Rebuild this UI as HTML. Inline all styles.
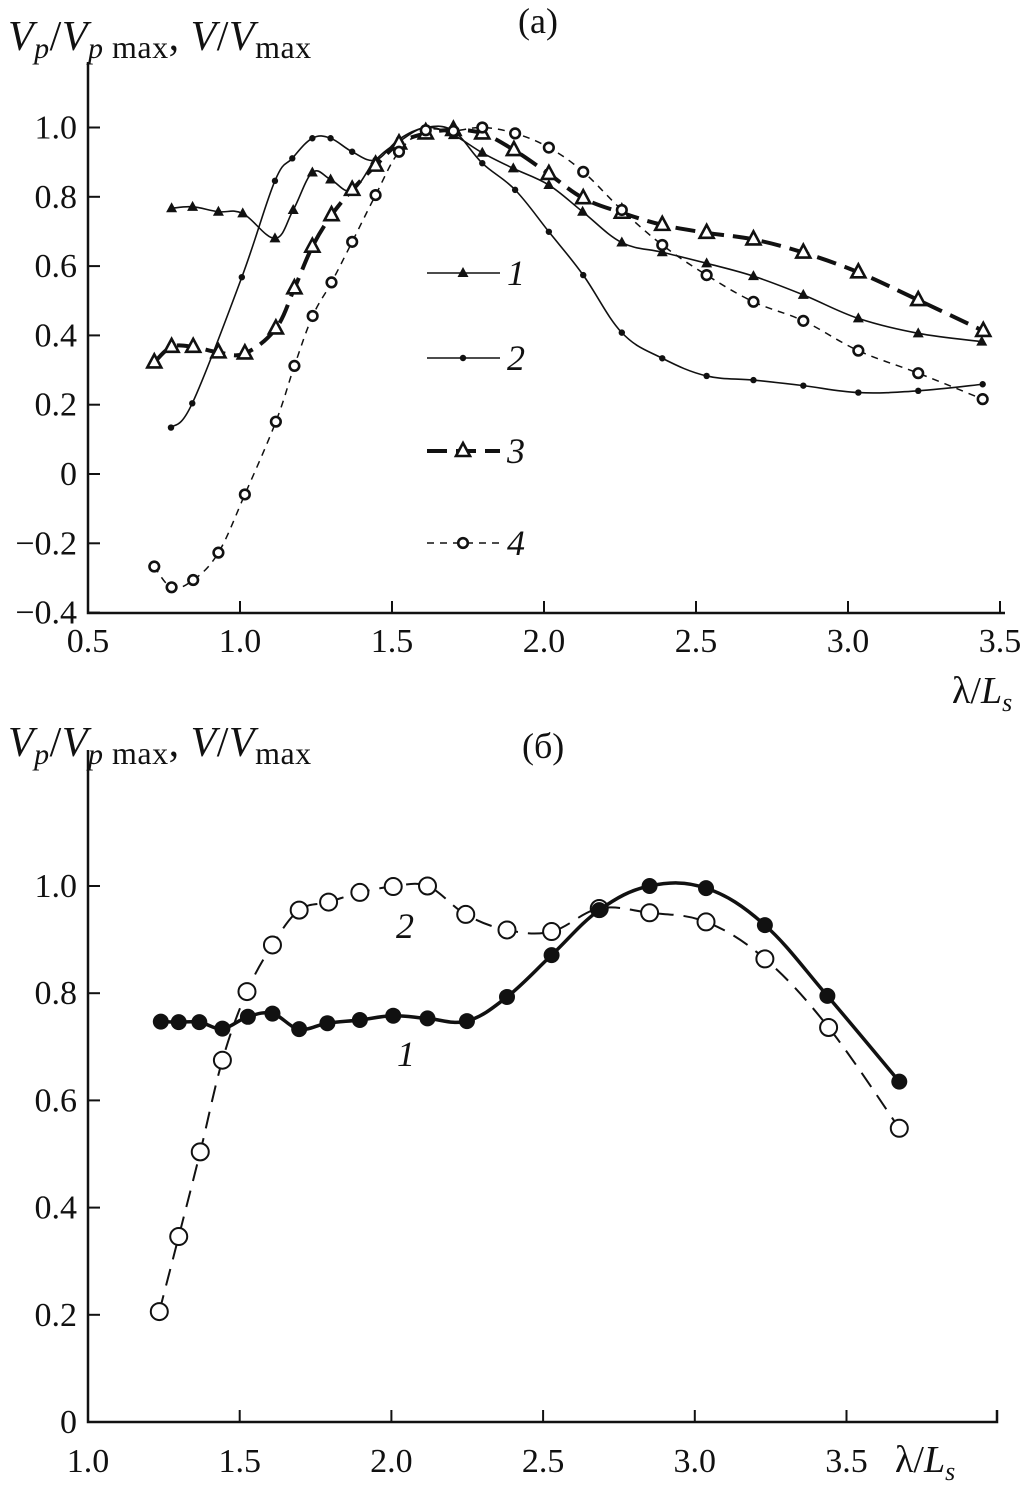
<!DOCTYPE html>
<html><head><meta charset="utf-8"><style>
body{margin:0;background:#fff}
svg{display:block}
text{font-family:"Liberation Serif",serif;fill:#111}
</style></head><body>
<svg id="chart" width="1030" height="1494" viewBox="0 0 1030 1494" xmlns="http://www.w3.org/2000/svg">
<g id="pa"></g>
<g id="pb"></g>
</svg>
<script>
// Panel (a) data
const aX1=[0.775,0.844,0.929,1.009,1.115,1.175,1.238,1.298,1.369,1.446,1.523,1.611,1.702,1.797,1.899,2.016,2.127,2.256,2.389,2.535,2.689,2.853,3.034,3.231,3.440];
const aY1=[0.767,0.771,0.757,0.752,0.680,0.762,0.870,0.850,0.818,0.906,0.959,1.0,0.978,0.927,0.882,0.834,0.757,0.668,0.640,0.608,0.571,0.517,0.449,0.406,0.382];
const aX2=[0.773,0.843,1.006,1.115,1.172,1.238,1.298,1.369,1.446,1.523,1.611,1.702,1.797,1.905,2.016,2.129,2.256,2.389,2.535,2.689,2.853,3.034,3.231,3.443];
const aY2=[0.134,0.204,0.568,0.846,0.911,0.969,0.969,0.930,0.906,0.966,1.0,0.990,0.897,0.820,0.699,0.574,0.408,0.334,0.283,0.271,0.255,0.235,0.240,0.259];
const aX3=[0.718,0.775,0.846,0.929,1.016,1.118,1.179,1.238,1.301,1.369,1.446,1.523,1.611,1.702,1.797,1.901,2.016,2.129,2.256,2.389,2.535,2.689,2.853,3.034,3.231,3.445];
const aY3=[0.322,0.367,0.367,0.351,0.348,0.420,0.536,0.656,0.747,0.820,0.890,0.954,0.983,0.993,0.983,0.935,0.866,0.796,0.754,0.719,0.696,0.677,0.639,0.582,0.502,0.413];
const aX4=[0.718,0.775,0.846,0.929,1.016,1.118,1.179,1.239,1.301,1.369,1.446,1.523,1.611,1.702,1.797,1.905,2.016,2.129,2.256,2.389,2.535,2.689,2.853,3.034,3.231,3.443];
const aY4=[-0.267,-0.327,-0.306,-0.227,-0.059,0.151,0.312,0.456,0.553,0.670,0.805,0.930,0.992,0.990,1.0,0.983,0.942,0.872,0.762,0.661,0.574,0.497,0.442,0.356,0.291,0.216];
const aXTicks=["0.5","1.0","1.5","2.0","2.5","3.0","3.5"];
const aYTicks=["1.0","0.8","0.6","0.4","0.2","0","\u22120.2","\u22120.4"];
const aYVals=[1.0,0.8,0.6,0.4,0.2,0,-0.2,-0.4];
// Panel (b) data
const bX1=[1.240,1.299,1.367,1.443,1.527,1.608,1.696,1.789,1.896,2.006,2.119,2.249,2.381,2.528,2.685,2.851,3.037,3.231,3.437,3.674];
const bY1=[0.747,0.746,0.746,0.734,0.756,0.762,0.733,0.744,0.750,0.758,0.753,0.748,0.793,0.871,0.955,1.0,0.996,0.927,0.795,0.635];
const bX2=[1.235,1.299,1.370,1.443,1.524,1.608,1.696,1.793,1.896,2.006,2.119,2.245,2.381,2.528,2.685,2.851,3.037,3.231,3.441,3.674];
const bY2=[0.206,0.346,0.504,0.675,0.803,0.890,0.955,0.970,0.988,0.999,1.0,0.947,0.918,0.915,0.958,0.950,0.933,0.864,0.736,0.548];
const bXTicks=["1.0","1.5","2.0","2.5","3.0","3.5"];
const bYTicks=["1.0","0.8","0.6","0.4","0.2","0"];
const bYVals=[1.0,0.8,0.6,0.4,0.2,0];

const NS="http://www.w3.org/2000/svg";
function mk(p,tag,at){const e=document.createElementNS(NS,tag);for(const k in at)e.setAttribute(k,at[k]);p.appendChild(e);return e;}
const ax=v=>88+(v-0.5)*304, ay=v=>474-v*346.5;
const bx=v=>88+(v-1.0)*303.4, by=v=>1422-v*536;
function smooth(pts){let d="M"+pts[0][0]+","+pts[0][1];for(let i=0;i<pts.length-1;i++){const p0=pts[i-1]||pts[i],p1=pts[i],p2=pts[i+1],p3=pts[i+2]||p2;const t=0.18;d+=" C"+(p1[0]+(p2[0]-p0[0])*t)+","+(p1[1]+(p2[1]-p0[1])*t)+" "+(p2[0]-(p3[0]-p1[0])*t)+","+(p2[1]-(p3[1]-p1[1])*t)+" "+p2[0]+","+p2[1];}return d;}
function marker(g,kind,x,y){
 if(kind==="ftri"){return mk(g,"polygon",{points:`${x},${y-6} ${x-5.5},${y+4} ${x+5.5},${y+4}`,fill:"#111"});}
 if(kind==="dot"){return mk(g,"circle",{cx:x,cy:y,r:3.2,fill:"#111"});}
 if(kind==="otri"){return mk(g,"polygon",{points:`${x},${y-8} ${x-7},${y+5} ${x+7},${y+5}`,fill:"#fff",stroke:"#111","stroke-width":2.6});}
 if(kind==="ocir"){return mk(g,"circle",{cx:x,cy:y,r:4.8,fill:"#fff",stroke:"#111","stroke-width":2.6});}
 if(kind==="bfill"){return mk(g,"circle",{cx:x,cy:y,r:8,fill:"#111"});}
 if(kind==="bopen"){return mk(g,"circle",{cx:x,cy:y,r:8.5,fill:"#fff",stroke:"#111","stroke-width":2});}
}
function series(g,name,xs,ys,fx,fy,style,kind){
 const sg=mk(g,"g",{});
 
 
 const pts=xs.map((x,i)=>[fx(x),fy(ys[i])]);
 const p=mk(sg,"path",Object.assign({d:smooth(pts),fill:"none",stroke:"#111"},style));
 
 
 pts.forEach(q=>{const m=marker(sg,kind,q[0],q[1]);
  
  });
}
function txt(g,name,x,y,s,at){const t=mk(g,"text",Object.assign({x:x,y:y},at||{}));t.innerHTML=s;return t;}
const TITLE='<tspan font-style="italic">V</tspan><tspan font-style="italic" font-size="30" dy="8">p</tspan><tspan dy="-8">/</tspan><tspan font-style="italic">V</tspan><tspan font-style="italic" font-size="30" dy="8">p</tspan><tspan font-size="32"> max</tspan><tspan dy="-8">, </tspan><tspan font-style="italic">V</tspan>/<tspan font-style="italic">V</tspan><tspan font-size="32" dy="8">max</tspan>';
const XT='<tspan>λ/</tspan><tspan font-style="italic">L</tspan><tspan font-style="italic" font-size="26" dy="8">s</tspan>';

// ---- Panel a ----
const A=document.getElementById("pa");
let axl=mk(A,"path",{d:"M88,62 V613 H1005",fill:"none",stroke:"#111","stroke-width":2.5});


aYVals.forEach((v,i)=>{mk(A,"line",{x1:88,x2:100,y1:ay(v),y2:ay(v),stroke:"#111","stroke-width":2});
 txt(A,"y-tick-label",77,ay(v)+11,aYTicks[i],{"text-anchor":"end","font-size":34});});
aXTicks.forEach((s,i)=>{const v=parseFloat(s);const x=ax(v);
 if(i>0)mk(A,"line",{x1:x,x2:x,y1:613,y2:601,stroke:"#111","stroke-width":2});
 txt(A,"x-tick-label",x,652,s,{"text-anchor":"middle","font-size":34});});
txt(A,"y-axis-title",8,50,TITLE,{"font-size":42,"letter-spacing":"0.5"});
txt(A,"panel-label-a",518,33,"(a)",{"font-size":36});
txt(A,"x-axis-title",952,703,XT,{"font-size":38});
series(A,"series-1",aX1,aY1,ax,ay,{"stroke-width":1.6},"ftri");
series(A,"series-2",aX2,aY2,ax,ay,{"stroke-width":1.6},"dot");
series(A,"series-3",aX3,aY3,ax,ay,{"stroke-width":4,"stroke-dasharray":"20 9"},"otri");
series(A,"series-4",aX4,aY4,ax,ay,{"stroke-width":1.5,"stroke-dasharray":"7 6"},"ocir");
// legend
const lg=mk(A,"g",{});


[[273,"ftri",{"stroke-width":1.6},"1"],[358,"dot",{"stroke-width":1.6},"2"],[451,"otri",{"stroke-width":4,"stroke-dasharray":"20 9"},"3"],[543,"ocir",{"stroke-width":1.5,"stroke-dasharray":"7 6"},"4"]].forEach(e=>{
 mk(lg,"line",Object.assign({x1:427,x2:500,y1:e[0],y2:e[0],stroke:"#111"},e[2]));
 marker(lg,e[1],463,e[0]);
 txt(lg,"legend-entry",507,e[0]+12,e[3],{"font-size":36,"font-style":"italic"});});

// ---- Panel b ----
const B=document.getElementById("pb");
let bxl=mk(B,"path",{d:"M88,750 V1422 H997 V1410",fill:"none",stroke:"#111","stroke-width":2.5});


bYVals.forEach((v,i)=>{mk(B,"line",{x1:88,x2:100,y1:by(v),y2:by(v),stroke:"#111","stroke-width":2});
 txt(B,"y-tick-label",77,by(v)+11,bYTicks[i],{"text-anchor":"end","font-size":34});});
bXTicks.forEach((s,i)=>{const v=parseFloat(s);const x=bx(v);
 if(i>0)mk(B,"line",{x1:x,x2:x,y1:1422,y2:1410,stroke:"#111","stroke-width":2});
 txt(B,"x-tick-label",x,1472,s,{"text-anchor":"middle","font-size":34});});
txt(B,"y-axis-title",8,756,TITLE,{"font-size":42,"letter-spacing":"0.5"});
txt(B,"panel-label-b",522,758,"(б)",{"font-size":36});
txt(B,"x-axis-title",895,1472,XT,{"font-size":38});
series(B,"series-b2",bX2,bY2,bx,by,{"stroke-width":2,"stroke-dasharray":"17 10"},"bopen");
series(B,"series-b1",bX1,bY1,bx,by,{"stroke-width":3.5},"bfill");
txt(B,"series-label-2",396,938,"2",{"font-size":36,"font-style":"italic"});
txt(B,"series-label-1",397,1066,"1",{"font-size":36,"font-style":"italic"});
</script>
</body></html>
